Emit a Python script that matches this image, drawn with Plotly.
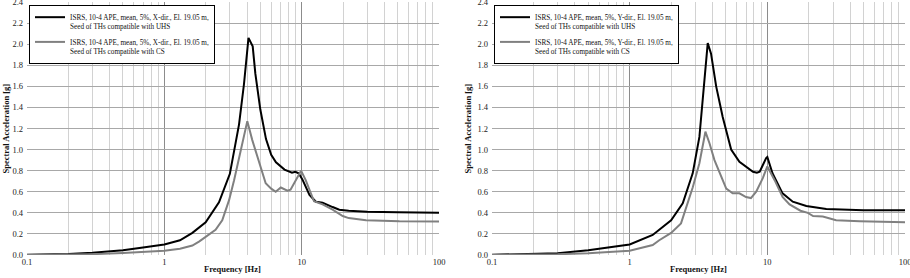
import plotly.graph_objects as go

# ---------------- data ----------------
# X-direction (left panel)
fx_uhs = [0.1, 0.2, 0.3, 0.5, 0.7, 1.0, 1.3, 1.6, 2.0, 2.5, 3.0, 3.5, 3.8, 4.1, 4.4, 4.6,
          5.0, 5.5, 6.0, 6.5, 7.5, 8.5, 9.0, 9.5, 10.1, 11.4, 12.7, 14.2, 16.8, 18.8, 22, 30, 50, 100]
ax_uhs = [0.002, 0.01, 0.022, 0.046, 0.072, 0.10, 0.14, 0.21, 0.31, 0.50, 0.77, 1.24, 1.62, 2.06, 1.98, 1.72,
          1.38, 1.10, 0.95, 0.88, 0.81, 0.78, 0.79, 0.775, 0.72, 0.57, 0.505, 0.495, 0.455, 0.43, 0.42, 0.41, 0.405, 0.40]

fx_cs = [0.1, 0.2, 0.3, 0.5, 0.7, 1.0, 1.3, 1.6, 1.8, 2.0, 2.36, 2.64, 2.96, 3.22, 3.6, 4.02, 4.37, 4.9,
         5.47, 6.0, 6.47, 7.05, 7.87, 8.3, 9.06, 9.9, 10.7, 11.4, 12.3, 14.2, 16.8, 19.9, 22, 29.4, 51.5, 100]
ax_cs = [0.0, 0.003, 0.008, 0.018, 0.027, 0.04, 0.06, 0.09, 0.13, 0.17, 0.24, 0.33, 0.52, 0.71, 1.0, 1.27, 1.09, 0.87,
         0.68, 0.63, 0.60, 0.64, 0.61, 0.62, 0.71, 0.80, 0.71, 0.62, 0.51, 0.48, 0.43, 0.37, 0.35, 0.33, 0.32, 0.317]

# Y-direction (right panel)
fy_uhs = [0.1, 0.2, 0.3, 0.5, 0.7, 1.0, 1.47, 2.0, 2.43, 2.87, 3.21, 3.49, 3.69, 3.9, 4.25, 4.74, 5.46,
          6.27, 6.85, 7.43, 7.87, 8.4, 8.8, 9.8, 10.0, 10.9, 12.9, 15.3, 19.2, 26.8, 50, 100]
ay_uhs = [0.002, 0.008, 0.017, 0.046, 0.07, 0.10, 0.19, 0.33, 0.49, 0.775, 1.12, 1.63, 2.01, 1.91, 1.60, 1.31, 1.00,
          0.885, 0.85, 0.81, 0.79, 0.78, 0.79, 0.92, 0.93, 0.775, 0.585, 0.506, 0.465, 0.436, 0.425, 0.424]

fy_cs = [0.1, 0.2, 0.3, 0.5, 0.7, 1.0, 1.47, 1.64, 2.0, 2.36, 2.87, 3.21, 3.55, 3.8, 4.13, 4.62, 5.03, 5.6,
         6.27, 7.0, 7.6, 8.3, 9.27, 10.0, 11.3, 12.9, 14.5, 17.4, 19.7, 21.5, 25.3, 31.6, 46.9, 100]
ay_cs = [0.0, 0.003, 0.007, 0.017, 0.026, 0.04, 0.095, 0.14, 0.21, 0.30, 0.64, 0.87, 1.17, 1.06, 0.90, 0.74, 0.63, 0.585,
         0.585, 0.55, 0.54, 0.60, 0.73, 0.84, 0.71, 0.55, 0.48, 0.42, 0.40, 0.37, 0.365, 0.33, 0.32, 0.31]

names_x = ["ISRS, 10-4 APE, mean, 5%, X-dir., El. 19.05 m,<br>Seed of THs compatible with UHS",
           "ISRS, 10-4 APE, mean, 5%, X-dir., El. 19.05 m,<br>Seed of THs compatible with CS"]
names_y = ["ISRS, 10-4 APE, mean, 5%, Y-dir., El. 19.05 m,<br>Seed of THs compatible with UHS",
           "ISRS, 10-4 APE, mean, 5%, Y-dir., El. 19.05 m,<br>Seed of THs compatible with CS"]

x_title = "Frequency [Hz]"
y_title = "Spectral Acceleration [g]"

# ---------------- figure ----------------
FONT = "Liberation Serif"
BLACK = "#000000"
GRAY = "#808080"

fig = go.Figure()
fig.add_trace(go.Scatter(x=fx_uhs, y=ax_uhs, mode="lines", name=names_x[0], legendgroup="uhs",
                         line=dict(color=BLACK, width=2), xaxis="x", yaxis="y", legend="legend"))
fig.add_trace(go.Scatter(x=fx_cs, y=ax_cs, mode="lines", name=names_x[1], legendgroup="cs",
                         line=dict(color=GRAY, width=2), xaxis="x", yaxis="y", legend="legend"))
fig.add_trace(go.Scatter(x=fy_uhs, y=ay_uhs, mode="lines", name=names_y[0], legendgroup="uhs2",
                         line=dict(color=BLACK, width=2), xaxis="x2", yaxis="y2", legend="legend2"))
fig.add_trace(go.Scatter(x=fy_cs, y=ay_cs, mode="lines", name=names_y[1], legendgroup="cs2",
                         line=dict(color=GRAY, width=2), xaxis="x2", yaxis="y2", legend="legend2"))

W, H = 910, 278
ydom = [(H - 255) / H, (H - 2) / H]
xdom1 = [27 / W, 439 / W]
xdom2 = [492 / W, 905 / W]

def xax(dom, anchor):
    return dict(type="log", domain=dom, range=[-1, 2], dtick=1, anchor=anchor,
                showgrid=True, gridcolor="#8c8c8c", gridwidth=1,
                minor=dict(dtick="D1", showgrid=True, gridcolor="#d2d2d2", gridwidth=1, ticks=""),
                zeroline=False, showline=False, ticks="", automargin=False,
                ticklabeloverflow="allow",
                tickfont=dict(family=FONT, size=8.5, color="#222"), fixedrange=True)

def yax(dom, anchor):
    return dict(domain=dom, range=[0, 2.4005], tick0=0, dtick=0.2, tickformat=".1f", anchor=anchor,
                showgrid=True, gridcolor="#a8a8a8", gridwidth=1, zeroline=False, showline=False,
                ticks="", automargin=False, ticklabelstandoff=3, ticklabeloverflow="allow",
                tickfont=dict(family=FONT, size=8.5, color="#222"),
                fixedrange=True)

legend_common = dict(xref="paper", yref="paper", xanchor="left", yanchor="top",
                     bgcolor="white", bordercolor="black", borderwidth=1,
                     font=dict(family=FONT, size=7.2, color="#111"),
                     itemwidth=30, tracegroupgap=3, valign="top")

fig.update_layout(
    width=W, height=H,
    margin=dict(l=0, r=0, t=0, b=0),
    paper_bgcolor="white", plot_bgcolor="white",
    xaxis=xax(xdom1, "y"), yaxis=yax(ydom, "x"),
    xaxis2=xax(xdom2, "y2"), yaxis2=yax(ydom, "x2"),
    legend=dict(x=29 / W, y=1 - 5 / H, **legend_common),
    legend2=dict(x=494 / W, y=1 - 5 / H, **legend_common),
    showlegend=True,
)

ann_font = dict(family=FONT, size=8.5, color="#111")
for xc in [(xdom1[0] + xdom1[1]) / 2, (xdom2[0] + xdom2[1]) / 2]:
    fig.add_annotation(x=xc, y=1 - 269 / H, xref="paper", yref="paper", text="<b>" + x_title + "</b>",
                       showarrow=False, font=ann_font, xanchor="center", yanchor="middle")
for xp in [5, 467]:
    fig.add_annotation(x=xp / W, y=(ydom[0] + ydom[1]) / 2, xref="paper", yref="paper",
                       text="<b>" + y_title + "</b>", textangle=-90,
                       showarrow=False, font=ann_font, xanchor="center", yanchor="middle")

fig.write_html("out.html", config=dict(displayModeBar=False))
